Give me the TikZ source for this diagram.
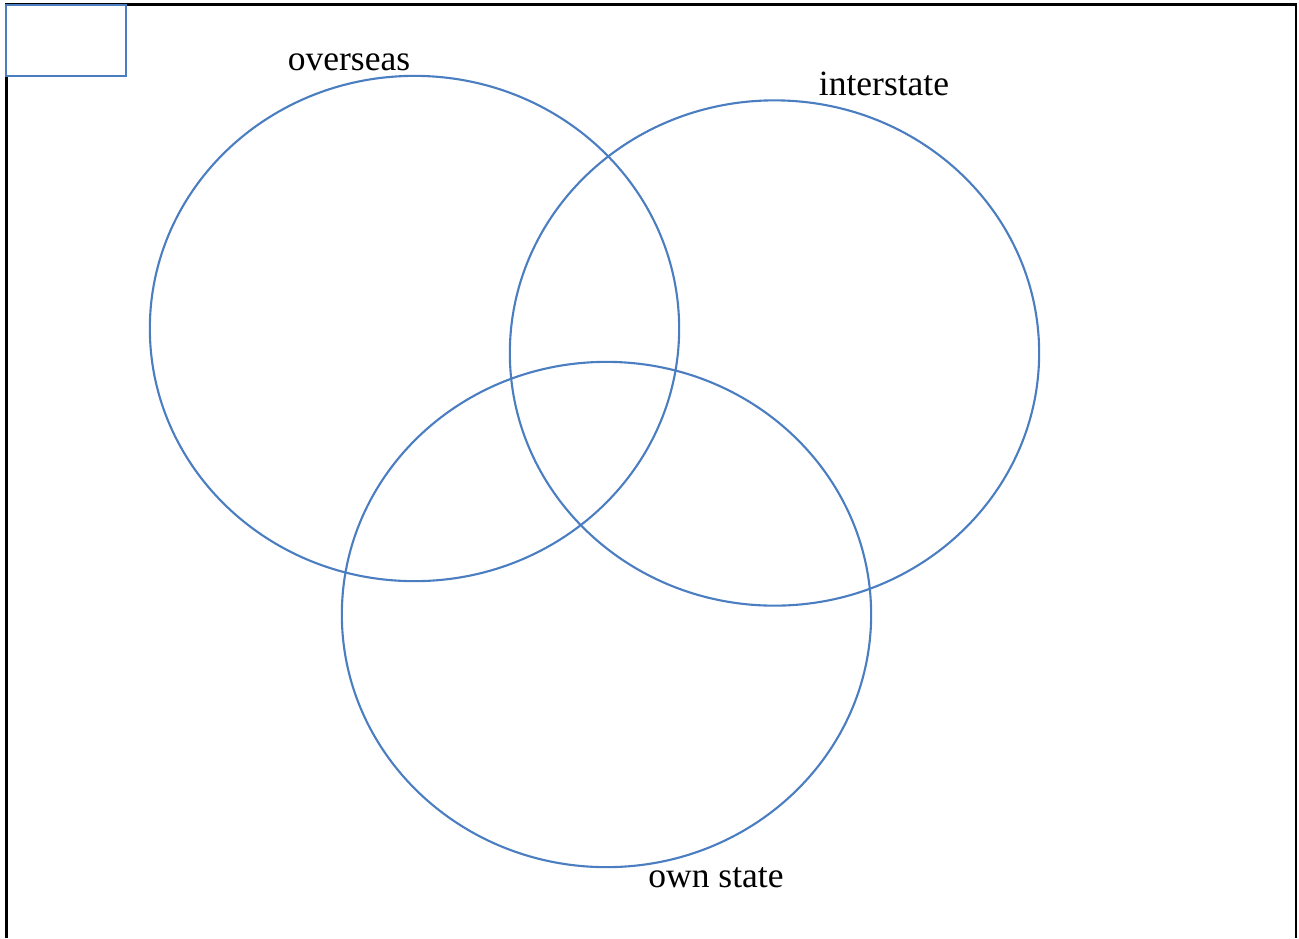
\documentclass[tikz,border=0pt]{standalone}
\usepackage{fontspec}
\setmainfont{Liberation Serif}
\usetikzlibrary{shapes.geometric}
\definecolor{vennblue}{RGB}{74,126,193}
\tikzset{
  set/.style={draw=vennblue, line width=0.6pt, ellipse, inner sep=0pt,
    minimum width=5.29cm, minimum height=5.05cm},
  setlabel/.style={font=\fontsize{10.1}{12}\selectfont, inner sep=0pt}
}
\begin{document}
\begin{tikzpicture}[x=0.01cm, y=-0.01cm]
  \useasboundingbox (0,0) rectangle (1299,938);

  % Frame
  \draw[line width=0.75pt] (6.5,938) -- (6.5,4.5) -- (1296,4.5) -- (1296,938);

  % Small box in the corner
  \node[draw=vennblue, line width=0.7pt, fill=white, inner sep=0pt,
        minimum width=1.2cm, minimum height=0.71cm] (box) at (66,40.5) {};

  % Sets
  \node[set] (overseas) at (414.5,328.5) {};
  \node[set] (interstate) at (774.5,353) {};
  \node[set] (ownstate) at (606.5,614.5) {};

  % Labels
  \node[setlabel] (l1) at (349,62) {overseas};
  \node[setlabel] (l2) at (884,84) {interstate};
  \node[setlabel] (l3) at (716,878) {own state};

\end{tikzpicture}
\end{document}
